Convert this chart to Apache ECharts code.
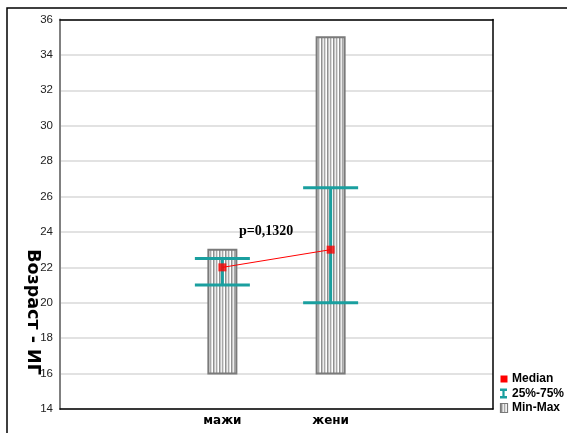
<!DOCTYPE html>
<html>
<head>
<meta charset="utf-8">
<script src="https://cdn.jsdelivr.net/npm/echarts@6/dist/echarts.min.js"></script>
<style>
html,body{margin:0;padding:0;background:#fff;}
#chart{width:567px;height:433px;}
</style>
</head>
<body>
<div id="chart"></div>
<script>
// ---- data ----
const categories = ['', 'мажи', 'жени', ''];
const groups = ['мажи', 'жени'];
const minVals = [16, 16];
const maxVals = [23, 35];
const q1Vals = [21, 20];
const q3Vals = [22.5, 26.5];
const medianVals = [22, 23];
const legendNames = ['Median', '25%-75%', 'Min-Max'];
const pText = 'p=0,1320';
const yTitle = 'Возраст - ИГ';

const stripeCols = ['#a8a8a8', '#dcdcdc', '#ffffff', '#909090', '#c4c4c4', '#ececec'];
function makeStripes() {
  const c = document.createElement('canvas');
  c.width = stripeCols.length; c.height = 4;
  const g = c.getContext('2d');
  stripeCols.forEach((col, i) => { g.fillStyle = col; g.fillRect(i, 0, 1, 4); });
  return c;
}
const stripes = makeStripes();

const boxData = groups.map((g, i) => [g, minVals[i], maxVals[i]]);
const iqrData = groups.map((g, i) => [g, q1Vals[i], q3Vals[i]]);
const medData = groups.map((g, i) => [g, medianVals[i]]);

const teal = '#1a9f9f';
const red = '#ff0000';
const boldWide = '"DejaVu Sans", Verdana, sans-serif';
const legendFont = 'bold 12px "Liberation Sans", Arial, sans-serif';

// legend drawn as graphic (icons + text)
const lgX = 500, lgY = [379, 393.5, 408];
const legendGraphics = [
  {type: 'rect', shape: {x: lgX + 0.5, y: lgY[0] - 3.5, width: 7, height: 7}, style: {fill: red}},
  {type: 'polygon', shape: {points: [[0,0],[7,0],[7,2.5],[4.6,2.5],[4.6,7.5],[7,7.5],[7,10],[0,10],[0,7.5],[2.4,7.5],[2.4,2.5],[0,2.5]].map(p => [p[0] + lgX, p[1] + lgY[1] - 5])}, style: {fill: teal}},
  {type: 'rect', shape: {x: lgX + 0.5, y: lgY[2] - 4.5, width: 7, height: 9}, style: {fill: {image: stripes, repeat: 'repeat'}, stroke: '#7a7a7a', lineWidth: 1.2}}
].concat(legendNames.map((n, i) => ({
  type: 'text', x: lgX + 12, y: lgY[i],
  style: {text: n, font: legendFont, fill: '#000', align: 'left', verticalAlign: 'middle'}
})));

const chart = echarts.init(document.getElementById('chart'), null, {renderer: 'canvas'});
const option = {
  animation: false,
  textStyle: {fontFamily: 'Liberation Sans, Arial, sans-serif'},
  grid: {left: 60, right: 74, top: 19.5, bottom: 24},
  xAxis: [{
    type: 'category', data: categories, boundaryGap: true,
    axisLine: {lineStyle: {color: '#000', width: 1.5}},
    axisTick: {inside: true, length: 3, alignWithLabel: true, interval: 0, lineStyle: {color: '#333'}},
    axisLabel: {interval: 0, fontWeight: 'bold', fontSize: 12, fontFamily: boldWide, color: '#000', margin: 6},
    splitLine: {show: false}
  }, {
    type: 'category', data: categories, boundaryGap: true, position: 'top',
    axisLine: {lineStyle: {color: '#000', width: 1.5}},
    axisTick: {inside: true, length: 3, alignWithLabel: true, interval: 0, lineStyle: {color: '#333'}},
    axisLabel: {show: false},
    splitLine: {show: false}
  }],
  yAxis: [{
    type: 'value', min: 14, max: 36, interval: 2,
    axisLine: {show: true, lineStyle: {color: '#808080', width: 2}},
    axisTick: {show: false},
    axisLabel: {color: '#222', fontSize: 11.5, margin: 7},
    splitLine: {lineStyle: {color: '#d8d8d8', width: 1.5}}
  }, {
    type: 'value', min: 14, max: 36, interval: 2, position: 'right',
    axisLine: {show: true, lineStyle: {color: '#000', width: 1.5}},
    axisTick: {show: false},
    axisLabel: {show: false},
    splitLine: {show: false}
  }],
  series: [{
    name: 'Min-Max', type: 'custom', z: 2,
    itemStyle: {color: '#b8b8b8'},
    encode: {x: 0, y: [1, 2]},
    data: boxData,
    renderItem: function (params, api) {
      const x = api.value(0);
      const p1 = api.coord([x, api.value(1)]);
      const p2 = api.coord([x, api.value(2)]);
      const w = 28;
      return {
        type: 'rect',
        shape: {x: p1[0] - w / 2, y: p2[1], width: w, height: p1[1] - p2[1]},
        style: {fill: {image: stripes, repeat: 'repeat'}, stroke: '#7a7a7a', lineWidth: 2}
      };
    }
  }, {
    name: '25%-75%', type: 'custom', z: 3,
    itemStyle: {color: teal},
    encode: {x: 0, y: [1, 2]},
    data: iqrData,
    renderItem: function (params, api) {
      const x = api.value(0);
      const p1 = api.coord([x, api.value(1)]);
      const p2 = api.coord([x, api.value(2)]);
      const hw = 27.5;
      const st = {stroke: teal, lineWidth: 3};
      return {
        type: 'group',
        children: [
          {type: 'line', shape: {x1: p1[0], y1: p1[1], x2: p2[0], y2: p2[1]}, style: st},
          {type: 'line', shape: {x1: p1[0] - hw, y1: p1[1], x2: p1[0] + hw, y2: p1[1]}, style: st},
          {type: 'line', shape: {x1: p2[0] - hw, y1: p2[1], x2: p2[0] + hw, y2: p2[1]}, style: st}
        ]
      };
    }
  }, {
    name: 'Median', type: 'scatter', z: 5,
    symbol: 'rect', symbolSize: 8,
    itemStyle: {color: red},
    data: medData,
    markLine: {
      silent: true, z: 4,
      symbol: ['none', 'arrow'], symbolSize: [0, 7],
      lineStyle: {color: red, width: 1, type: 'solid'},
      label: {show: false},
      emphasis: {disabled: true},
      data: [[{coord: medData[0]}, {coord: medData[1]}]]
    }
  }],
  graphic: [{
    type: 'rect', silent: true, z: 100,
    shape: {x: 7, y: 8, width: 600, height: 500},
    style: {fill: 'none', stroke: '#000', lineWidth: 1.5}
  }, {
    type: 'text', z: 100,
    x: 33, y: 312, rotation: -Math.PI / 2,
    style: {text: yTitle, font: 'bold 17.5px "DejaVu Sans", Verdana, sans-serif', fill: '#000', align: 'center', verticalAlign: 'middle'}
  }, {
    type: 'text', z: 100,
    x: 239, y: 231,
    style: {text: pText, font: 'bold 14px "Liberation Serif", "Times New Roman", serif', fill: '#000', align: 'left', verticalAlign: 'middle'}
  }, {
    type: 'group', z: 100, silent: true,
    children: legendGraphics
  }]
};
chart.setOption(option);
</script>
</body>
</html>
